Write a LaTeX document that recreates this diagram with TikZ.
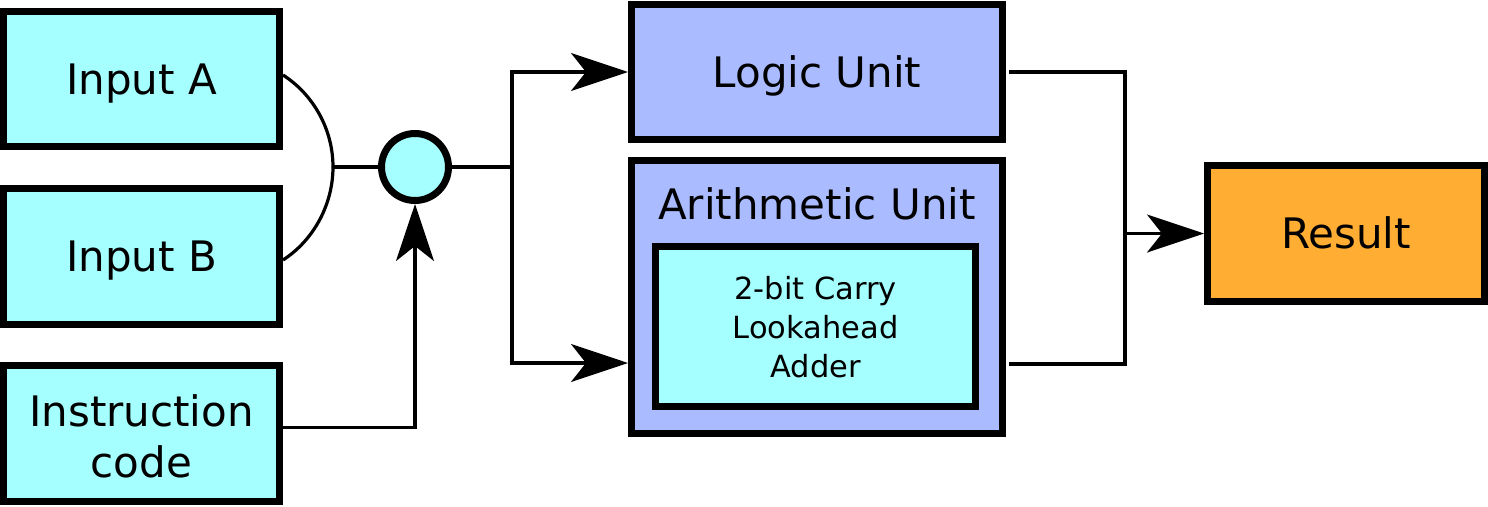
\documentclass[tikz,border=0pt]{standalone}
\usepackage{fontspec}
\setmainfont{DejaVu Sans}
\usetikzlibrary{arrows.meta,calc}
\definecolor{cy}{RGB}{166,255,255}
\definecolor{bl}{RGB}{170,187,255}
\definecolor{orng}{RGB}{255,173,51}
\begin{document}
\begin{tikzpicture}[x=1pt,y=-1pt,
  box/.style={draw, line width=7pt, inner sep=0pt, minimum width=276pt, minimum height=136pt,
    font=\fontsize{42}{51}\selectfont, text height=30.6pt, text depth=0pt},
  wire/.style={line width=3.2pt},
  arr/.style={wire, -{Stealth[length=57pt,width=38pt,inset=15pt]}},
]
\useasboundingbox (0,0) rectangle (1488,506);

% input boxes
\node[box, fill=cy, minimum height=135pt] (inA) at (141.5,79) {Input A};
\node[box, fill=cy] (inB) at (141.5,256.5) {Input B};
\node[box, fill=cy, align=center, text height=87pt, text depth=0pt] (instr) at (141.5,433.5) {Instruction\\code};

% selector circle
\node[circle, draw, line width=7pt, fill=cy, minimum size=67pt, inner sep=0pt] (circ) at (415,167) {};

% units
\node[box, fill=bl, minimum width=371pt, minimum height=135pt] (logic) at (817,72) {Logic Unit};
\node[draw, line width=7pt, fill=bl, minimum width=371pt, minimum height=273pt, inner sep=0pt] (arith) at (817,297) {};
\node[inner sep=0pt, font=\fontsize{42}{51}\selectfont, text height=30.6pt, text depth=0pt] (arithlbl) at (817,204) {Arithmetic Unit};
\node[draw, line width=7pt, fill=cy, minimum width=320pt, minimum height=160pt, inner sep=0pt,
  align=center, font=\fontsize{30.5}{39}\selectfont, text height=101pt, text depth=0pt] (adder) at (815.5,326.5)
  {2-bit Carry\\Lookahead\\Adder};

% result
\node[box, fill=orng, minimum width=277pt] (result) at (1346,233.5) {Result};

% connectors
\coordinate (J) at (333,167);
\draw[wire] ($(inA.east)+(0,-4)$) .. controls +(31,20) and +(0,-37) .. (J);
\draw[wire] ($(inB.east)+(0,3.5)$) .. controls +(31,-20) and +(0,37) .. (J);
\draw[wire] (J) -- (circ.west);
\draw[arr] ($(instr.east)+(0,-6)$) -| (circ.south);

\coordinate (S) at (512,167);
\draw[wire] (circ.east) -- (S);
\coordinate (AI) at ($(arith.west)+(0,66)$);
\draw[arr] (S) |- (logic.west);
\draw[arr] (S) |- (AI);

\coordinate (LO) at ($(logic.east)+(3,0)$);
\coordinate (AO) at ($(arith.east)+(3,67)$);
\coordinate (M) at (1125,233.5);
\draw[wire] (LO) -| (M) |- (AO);
\draw[arr] (M) -- (result.west);
\end{tikzpicture}
\end{document}
